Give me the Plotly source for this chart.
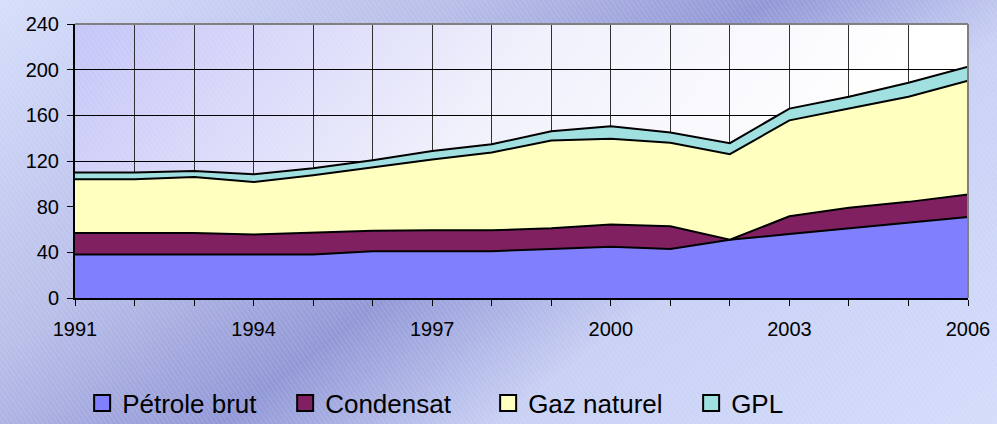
import base64
import plotly.graph_objects as go

# production by product (Mtep), stacked
years = list(range(1991, 2007))
petrole_brut = [38, 38, 38, 38, 38, 41, 41, 41, 43, 45, 43, 51, 56, 61, 66, 71]
condensat = [19, 19, 19, 17.6, 19, 17.8, 18.4, 18.4, 18, 19.4, 19.9, 0, 15.6, 18, 18.2, 19.7]
gaz_naturel = [47, 47, 49, 46, 50.6, 56, 62, 68, 77, 75, 73, 75, 84, 87, 92, 99.6]
gpl = [6, 6, 5.3, 6.8, 6, 5.8, 7.3, 7.3, 8, 11, 9, 9.6, 10.3, 10.2, 12.3, 12.3]

series = [
    ("Pétrole brut", petrole_brut, "#8080ff"),
    ("Condensat", condensat, "#802060"),
    ("Gaz naturel", gaz_naturel, "#ffffc0"),
    ("GPL", gpl, "#a0e0e0"),
]

W, H = 997, 424
L, R, T, B = 75, 29, 24, 126
pw, ph = W - L - R, H - T - B


def svg_uri(svg):
    return "data:image/svg+xml;base64," + base64.b64encode(svg.encode()).decode()


hatch = """<pattern id="h" width="4" height="4" patternUnits="userSpaceOnUse" patternTransform="rotate(-35)">
<line x1="0" y1="0" x2="0" y2="4" stroke="white" stroke-opacity="0.25" stroke-width="1"/></pattern>"""

paper_svg = f"""<svg xmlns="http://www.w3.org/2000/svg" width="{W}" height="{H}" viewBox="0 0 {W} {H}" preserveAspectRatio="none">
<defs><linearGradient id="g" gradientUnits="userSpaceOnUse" x1="0" y1="0" x2="575" y2="745">
<stop offset="0" stop-color="#d6defc"/><stop offset="0.3" stop-color="#b8bee8"/>
<stop offset="0.5" stop-color="#9298d6"/><stop offset="0.68" stop-color="#c8d0f4"/>
<stop offset="1" stop-color="#d4dcfc"/></linearGradient>{hatch}</defs>
<rect width="{W}" height="{H}" fill="url(#g)"/><rect width="{W}" height="{H}" fill="url(#h)"/></svg>"""

plot_svg = f"""<svg xmlns="http://www.w3.org/2000/svg" width="{pw}" height="{ph}" viewBox="0 0 {pw} {ph}" preserveAspectRatio="none">
<defs><linearGradient id="p" gradientUnits="userSpaceOnUse" x1="0" y1="0" x2="520" y2="420">
<stop offset="0" stop-color="#c4c4f8"/><stop offset="0.55" stop-color="#f0f0fc"/>
<stop offset="1" stop-color="#ffffff"/></linearGradient>{hatch}</defs>
<rect width="{pw}" height="{ph}" fill="url(#p)"/><rect width="{pw}" height="{ph}" fill="url(#h)"/></svg>"""

fig = go.Figure()
for name, vals, color in series:
    fig.add_trace(go.Scatter(
        x=years, y=vals, name=name, stackgroup="one", mode="lines",
        line=dict(color="black", width=2), fillcolor=color, showlegend=False,
    ))
# legend entries as square markers
for name, vals, color in series:
    fig.add_trace(go.Scatter(
        x=[None], y=[None], name=name, mode="markers",
        marker=dict(symbol="square", size=17, color=color,
                    line=dict(color="black", width=2)),
    ))

fig.update_layout(
    width=W, height=H,
    margin=dict(l=L, r=R, t=T, b=B, autoexpand=False),
    paper_bgcolor="#c8d0f4",
    plot_bgcolor="rgba(0,0,0,0)",
    font=dict(family="Liberation Sans, Arial", size=20, color="black"),
    showlegend=True,
    legend=dict(orientation="h", x=(100 - 75) / pw - 0.02, y=1 - (403 - T) / ph,
                yanchor="middle", xanchor="left", bgcolor="rgba(0,0,0,0)",
                traceorder="normal",
                font=dict(size=26), entrywidth=158, itemwidth=30),
    images=[
        dict(source=svg_uri(paper_svg), xref="paper", yref="paper",
             x=-L / pw, y=1 + T / ph, sizex=W / pw, sizey=H / ph,
             sizing="stretch", layer="below"),
        dict(source=svg_uri(plot_svg), xref="paper", yref="paper",
             x=0, y=1, sizex=1, sizey=1, sizing="stretch", layer="below"),
    ],
)
fig.update_xaxes(
    range=[1991, 2006], tickmode="array", tickvals=years,
    ticktext=[str(y) if (y - 1991) % 3 == 0 else "" for y in years],
    ticks="outside", ticklen=6, tickcolor="black",
    showgrid=True, gridcolor="#303030", gridwidth=1,
    showline=True, linecolor="black", linewidth=2,
    ticklabelstandoff=6, zeroline=False, automargin=False,
)
fig.update_yaxes(
    range=[0, 240], dtick=40, ticks="outside", ticklen=6, tickcolor="black",
    showgrid=True, gridcolor="black", gridwidth=1,
    showline=True, linecolor="black", linewidth=2,
    ticklabelstandoff=4, zeroline=False, automargin=False,
)
fig.add_shape(type="line", xref="paper", yref="paper", x0=0, x1=1, y0=1, y1=1,
              line=dict(color="#808080", width=2))
fig.add_shape(type="line", xref="paper", yref="paper", x0=1, x1=1, y0=0, y1=1,
              line=dict(color="#808080", width=2))

fig.write_html("out.html", config={"displayModeBar": False},
               post_script="document.body.style.margin='0';")
